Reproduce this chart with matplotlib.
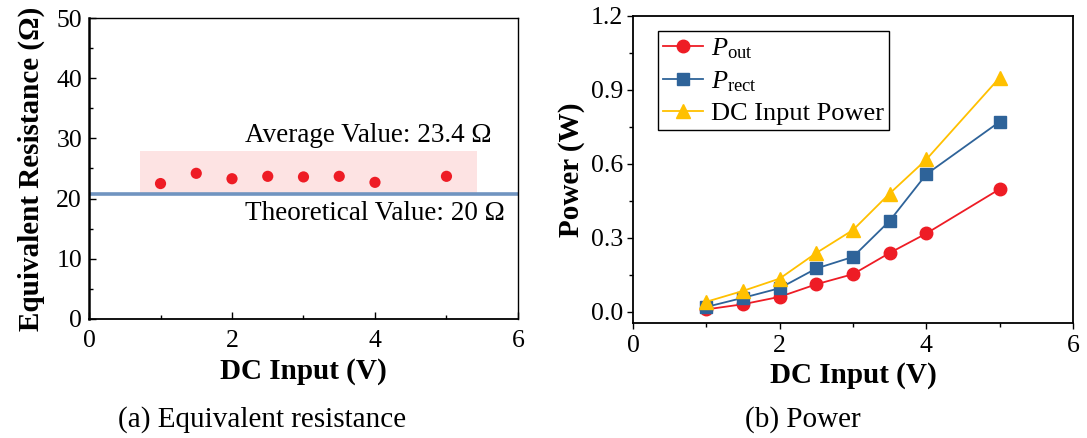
import matplotlib
matplotlib.use("Agg")
import matplotlib.pyplot as plt
from matplotlib.ticker import MultipleLocator
from matplotlib.patches import Rectangle

plt.rcParams['font.family'] = ['Liberation Serif', 'DejaVu Serif']
plt.rcParams['mathtext.fontset'] = 'custom'
plt.rcParams['mathtext.rm'] = 'Liberation Serif'
plt.rcParams['mathtext.it'] = 'Liberation Serif:italic'

# ---- data ----
dc_input = [1.0, 1.5, 2.0, 2.5, 3.0, 3.5, 4.0, 5.0]
resistance = [22.5, 24.2, 23.3, 23.7, 23.6, 23.7, 22.7, 23.7]
theoretical_line = 20.8
band_low, band_high = 20.8, 27.9
band_x0, band_x1 = 0.72, 5.43

p_out = [0.010, 0.031, 0.061, 0.112, 0.153, 0.239, 0.318, 0.498]
p_rect = [0.020, 0.057, 0.096, 0.176, 0.223, 0.369, 0.558, 0.771]
p_dc = [0.041, 0.085, 0.135, 0.239, 0.332, 0.480, 0.618, 0.950]

RED = '#EE1C25'
BLUE = '#2E6399'
YEL = '#FFC000'

fig = plt.figure(figsize=(10.87, 4.38), dpi=100)
ax1 = fig.add_axes([0.0819, 0.2717, 0.4765 - 0.0819, 0.9589 - 0.2717])
ax2 = fig.add_axes([0.5823, 0.2626, 0.9871 - 0.5823, 0.9635 - 0.2626])

TICK_FS = 18.5
LABEL_FS = 21

# ---- (a) ----
ax1.add_patch(Rectangle((band_x0, band_low), band_x1 - band_x0, band_high - band_low,
                        facecolor='#FDE3E3', edgecolor='none', zorder=1))
ax1.axhline(theoretical_line, color='#7094C0', lw=2.6, zorder=2)
ax1.scatter(dc_input, resistance, s=65, color=RED, edgecolor='none', zorder=3)
ax1.text(2.18, 30.4, 'Average Value: 23.4 Ω', fontsize=19.5, ha='left', va='center')
ax1.text(2.18, 17.6, 'Theoretical Value: 20 Ω', fontsize=19.5, ha='left', va='center')
ax1.set_xlim(0, 6)
ax1.set_ylim(0, 50)
ax1.xaxis.set_major_locator(MultipleLocator(2))
ax1.xaxis.set_minor_locator(MultipleLocator(1))
ax1.yaxis.set_major_locator(MultipleLocator(10))
ax1.yaxis.set_minor_locator(MultipleLocator(5))
ax1.tick_params(which='both', direction='in', labelsize=TICK_FS)
ax1.tick_params(axis='x', pad=8)
ax1.tick_params(axis='y', pad=5)
ax1.tick_params(which='major', length=5, width=1.0)
ax1.tick_params(which='minor', length=3, width=1.0)
ax1.set_xlabel('DC Input (V)', fontsize=LABEL_FS, fontweight='bold', labelpad=4)
ax1.set_ylabel('Equivalent Resistance (Ω)', fontsize=LABEL_FS, fontweight='bold', labelpad=8)
ax1.spines['left'].set_linewidth(1.8)
ax1.spines['bottom'].set_linewidth(1.3)
ax1.spines['top'].set_linewidth(1.0)
ax1.spines['right'].set_linewidth(1.0)

# ---- (b) ----
ax2.plot(dc_input, p_out, '-o', color=RED, lw=1.3, ms=9, label=r'$\mathit{P}_{\mathrm{out}}$')
ax2.plot(dc_input, p_rect, '-s', color=BLUE, lw=1.3, ms=8, label=r'$\mathit{P}_{\mathrm{rect}}$')
ax2.plot(dc_input, p_dc, '-^', color=YEL, lw=1.3, ms=10, label='DC Input Power')
ax2.set_xlim(0, 6)
ax2.set_ylim(-0.045, 1.2)
ax2.xaxis.set_major_locator(MultipleLocator(2))
ax2.xaxis.set_minor_locator(MultipleLocator(1))
ax2.yaxis.set_major_locator(MultipleLocator(0.3))
ax2.yaxis.set_minor_locator(MultipleLocator(0.15))
ax2.yaxis.set_major_formatter(plt.FuncFormatter(lambda v, p: f'{v:.1f}'))
ax2.tick_params(which='both', direction='out', labelsize=TICK_FS)
ax2.tick_params(axis='x', pad=5)
ax2.tick_params(axis='y', pad=3)
ax2.tick_params(which='major', length=4, width=1.0)
ax2.tick_params(which='minor', length=3, width=1.0)
ax2.set_xlabel('DC Input (V)', fontsize=LABEL_FS, fontweight='bold', labelpad=3)
ax2.set_ylabel('Power (W)', fontsize=LABEL_FS, fontweight='bold', labelpad=4)
for sp in ax2.spines.values():
    sp.set_linewidth(1.3)
leg = ax2.legend(loc='upper left', bbox_to_anchor=(0.057, 0.95), fontsize=19,
                 frameon=True, fancybox=False, edgecolor='black', framealpha=1,
                 handlelength=1.5, handletextpad=0.3, borderpad=0.2, labelspacing=0.3,
                 borderaxespad=0)
leg.get_frame().set_linewidth(1.0)

# captions
fig.text(262 / 1087, 1 - 420 / 438, '(a) Equivalent resistance', fontsize=21, ha='center', va='center')
fig.text(803 / 1087, 1 - 420 / 438, '(b) Power', fontsize=21, ha='center', va='center')

fig.savefig('out.png', dpi=100)
